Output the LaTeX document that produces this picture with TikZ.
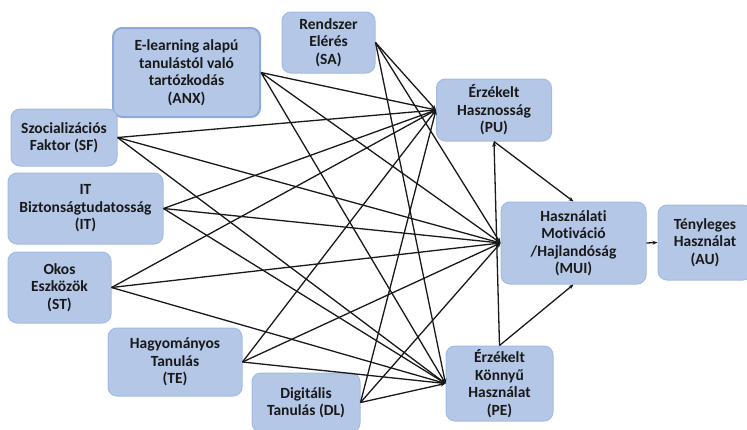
\documentclass[tikz,border=0pt]{standalone}
\usepackage{fontspec}
\setmainfont[Ligatures={NoCommon}]{Carlito}
\usetikzlibrary{arrows.meta}
\definecolor{boxfill}{HTML}{B4C7E7}
\definecolor{boxline}{HTML}{A3BBE4}
\definecolor{boxlinedark}{HTML}{8EA9DB}
\begin{document}
\begin{tikzpicture}[x=1pt,y=-1pt,
  box/.style={draw=boxline, line width=1pt, fill=boxfill, rounded corners=9pt,
    align=center, inner sep=1pt, font=\fontsize{15.5}{17.5}\selectfont\bfseries, text=black!90},
  link/.style={line width=1.3pt, black!90},
  arr/.style={link, -{Stealth[length=5pt,width=4pt]}}]
\useasboundingbox (0,0) rectangle (747,429);
\node[box, minimum width=147pt, minimum height=89pt, draw=boxlinedark, line width=2pt] (ANX) at (186.5,72.5) {E-learning alapú\\tanulástól való\\tartózkodás\\(ANX)};
\node[box, minimum width=93pt, minimum height=61pt] (SA) at (328.5,42.5) {Rendszer\\Elérés\\(SA)};
\node[box, minimum width=106pt, minimum height=57pt] (SF) at (64,137.5) {Szocializációs\\Faktor (SF)};
\node[box, minimum width=155pt, minimum height=71pt] (IT) at (85.5,208.5) {IT\\Biztonságtudatosság\\(IT)};
\node[box, minimum width=103pt, minimum height=71pt] (ST) at (59.5,287.5) {Okos\\Eszközök\\(ST)};
\node[box, minimum width=134pt, minimum height=68pt] (TE) at (175,362) {Hagyományos\\Tanulás\\(TE)};
\node[box, minimum width=108pt, minimum height=59pt] (DL) at (306,402.5) {Digitális\\Tanulás (DL)};
\node[box, minimum width=115pt, minimum height=62pt] (PU) at (494,110) {Érzékelt\\Hasznosság\\(PU)};
\node[box, minimum width=145pt, minimum height=82pt] (MUI) at (573.5,243) {Használati\\Motiváció\\/Hajlandóság\\(MUI)};
\node[box, minimum width=94pt, minimum height=75pt] (AU) at (705,242.5) {Tényleges\\Használat\\(AU)};
\node[box, minimum width=107pt, minimum height=75pt] (PE) at (499.5,383.5) {Érzékelt\\Könnyű\\Használat\\(PE)};
\foreach \s in {SA,SF,IT,ST,TE,DL}{
  \draw[arr] (\s.east) -- (PU.west);
  \draw[arr] (\s.east) -- (MUI.west);
  \draw[arr] (\s.east) -- (PE.west);
}
\draw[arr] (ANX.east) -- (PU.west);
\draw[arr, {Stealth[length=5pt,width=4pt]}-{Stealth[length=5pt,width=4pt]}] (ANX.east) -- (MUI.west);
\draw[arr] (ANX.east) -- (PE.west);
\draw[arr] (PU.south) -- (MUI.north);
\draw[arr] (PE.north) -- (PU.south);
\draw[arr] (PE.north) -- (MUI.south);
\draw[arr] (MUI.east) -- (AU.west);
\end{tikzpicture}
\end{document}
